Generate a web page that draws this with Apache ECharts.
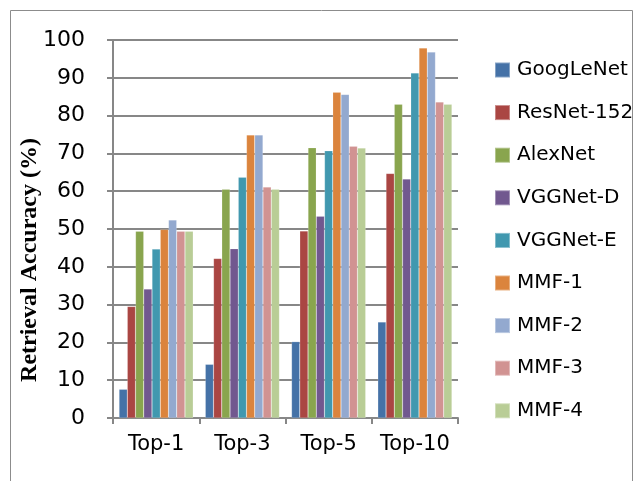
<!DOCTYPE html>
<html>
<head>
<meta charset="utf-8">
<script src="https://cdn.jsdelivr.net/npm/echarts@6/dist/echarts.min.js"></script>
<style>html,body{margin:0;padding:0;background:#fff}#c{width:642px;height:481px}</style>
</head>
<body>
<div id="c"></div>
<script>
const categories = ['Top-1', 'Top-3', 'Top-5', 'Top-10'];
const seriesNames = ['GoogLeNet', 'ResNet-152', 'AlexNet', 'VGGNet-D', 'VGGNet-E', 'MMF-1', 'MMF-2', 'MMF-3', 'MMF-4'];
const googLeNet = [7.6, 14.2, 20.2, 25.4];
const resNet152 = [29.5, 42.2, 49.5, 64.7];
const alexNet = [49.4, 60.5, 71.5, 83.0];
const vggNetD = [34.1, 44.8, 53.4, 63.2];
const vggNetE = [44.7, 63.7, 70.7, 91.3];
const mmf1 = [49.9, 74.9, 86.2, 97.9];
const mmf2 = [52.4, 74.9, 85.6, 96.8];
const mmf3 = [49.4, 61.1, 71.9, 83.6];
const mmf4 = [49.4, 60.5, 71.4, 83.0];
const yTicks = [0, 10, 20, 30, 40, 50, 60, 70, 80, 90, 100];
const yTitle = 'Retrieval Accuracy (%)';
const colors = ['#4572A7', '#AA4643', '#89A54E', '#71588F', '#4198AF', '#DB843D', '#93A9CF', '#D19392', '#B9CD96'];
const allData = [googLeNet, resNet152, alexNet, vggNetD, vggNetE, mmf1, mmf2, mmf3, mmf4];

const chart = echarts.init(document.getElementById('c'));
const gridCol = '#878787';
const font = 'DejaVu Sans';
chart.setOption({
  animation: false,
  color: colors,
  graphic: [{
    type: 'rect', left: 8, top: 8, shape: { width: 622, height: 480 },
    style: { fill: 'none', stroke: '#8c8c8c', lineWidth: 1 }, silent: true
  }, {
    type: 'text', x: 30, y: 260, rotation: Math.PI / 2,
    style: {
      text: yTitle, fill: '#000', font: 'bold 24px "Liberation Serif"',
      textAlign: 'center', textVerticalAlign: 'middle'
    }, silent: true
  }],
  grid: { left: 113, top: 40, width: 345, height: 378 },
  legend: {
    orient: 'vertical', left: 489, top: 55,
    itemWidth: 15, itemHeight: 15, itemGap: 22.6,
    icon: 'rect',
    textStyle: { fontFamily: font, fontSize: 20, color: '#000', padding: [0, 0, 0, 2] },
    data: seriesNames
  },
  xAxis: {
    type: 'category', data: categories,
    axisLine: { lineStyle: { color: gridCol, width: 2 } },
    axisTick: { show: true, length: 6, lineStyle: { color: gridCol, width: 2 } },
    axisLabel: { interval: 0, fontFamily: font, fontSize: 21, color: '#000', margin: 16 }
  },
  yAxis: {
    type: 'value', min: yTicks[0], max: yTicks[yTicks.length - 1], interval: 10,
    axisLine: { show: true, lineStyle: { color: gridCol, width: 2 } },
    axisTick: { show: true, length: 6, lineStyle: { color: gridCol, width: 2 } },
    splitLine: { lineStyle: { color: gridCol, width: 2 } },
    axisLabel: { fontFamily: font, fontSize: 22, color: '#000', margin: 28 }
  },
  series: seriesNames.map((n, i) => ({
    name: n, type: 'bar', data: allData[i],
    barGap: '0%', barCategoryGap: '14%',
    itemStyle: { color: colors[i], borderColor: 'rgba(255,255,255,0.35)', borderWidth: 0.5 }
  }))
});
</script>
</body>
</html>
